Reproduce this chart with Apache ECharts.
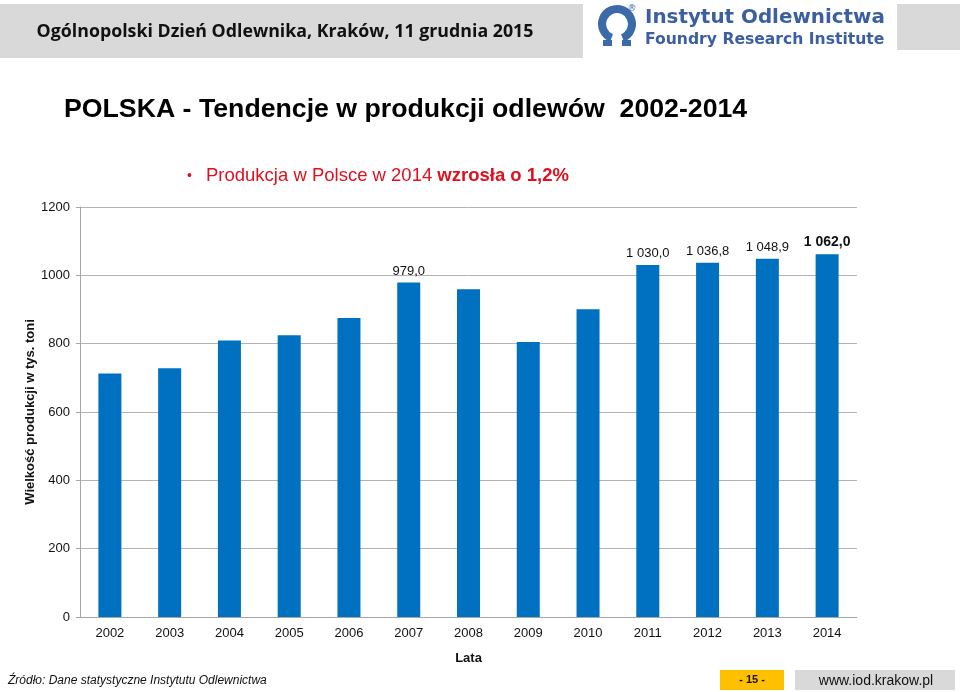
<!DOCTYPE html>
<html>
<head>
<meta charset="utf-8">
<script src="https://cdn.jsdelivr.net/npm/echarts@6/dist/echarts.min.js"></script>
<style>
html,body{margin:0;padding:0;background:#fff;}
#chart{width:960px;height:692px;}
</style>
</head>
<body>
<div id="chart"></div>
<script>
var years = ['2002','2003','2004','2005','2006','2007','2008','2009','2010','2011','2012','2013','2014'];
var production = [713, 728, 809, 825, 875, 979.0, 959, 805, 901, 1030.0, 1036.8, 1048.9, 1062.0];
var valueLabels = ['', '', '', '', '', '979,0', '', '', '', '1 030,0', '1 036,8', '1 048,9', '1 062,0'];
var boldLabel = [false,false,false,false,false,false,false,false,false,false,false,false,true];
var yTicks = [0, 200, 400, 600, 800, 1000, 1200];

var chart = echarts.init(document.getElementById('chart'), null, {renderer: 'canvas'});

var seriesData = production.map(function (v, i) {
  return {
    value: v,
    label: {
      show: valueLabels[i] !== '',
      formatter: valueLabels[i],
      fontWeight: boldLabel[i] ? 'bold' : 'normal',
      fontSize: boldLabel[i] ? 14 : 13
    }
  };
});

var option = {
  backgroundColor: '#ffffff',
  animation: false,
  textStyle: {fontFamily: 'Liberation Sans, Arial, sans-serif'},
  grid: {left: 80, right: 103, top: 207, bottom: 75, containLabel: false},
  xAxis: {
    type: 'category',
    data: years,
    name: 'Lata',
    nameLocation: 'middle',
    nameGap: 35,
    nameMoveOverlap: false,
    nameTextStyle: {fontWeight: 'bold', fontSize: 13, color: '#111', fontFamily: 'Liberation Sans, Arial, sans-serif'},
    axisLine: {show: true, lineStyle: {color: '#a6a6a6', width: 1}},
    axisTick: {show: false},
    axisLabel: {color: '#111', fontSize: 13, margin: 10, fontFamily: 'Liberation Sans, Arial, sans-serif'}
  },
  yAxis: {
    type: 'value',
    min: yTicks[0],
    max: yTicks[yTicks.length - 1],
    interval: 200,
    name: 'Wielkość produkcji w tys. toni',
    nameLocation: 'middle',
    nameGap: 43,
    nameMoveOverlap: false,
    nameRotate: 90,
    nameTextStyle: {fontWeight: 'bold', fontSize: 13, color: '#111', fontFamily: 'Liberation Sans, Arial, sans-serif'},
    axisLine: {show: true, lineStyle: {color: '#a6a6a6', width: 1}},
    axisTick: {show: true, length: 4, inside: false, lineStyle: {color: '#a6a6a6'}},
    axisLabel: {color: '#111', fontSize: 13, margin: 10, fontFamily: 'Liberation Sans, Arial, sans-serif',
      formatter: function (v) { return String(v); }},
    splitLine: {show: true, lineStyle: {color: '#b3b3b3', width: 1}}
  },
  series: [{
    type: 'bar',
    data: seriesData,
    barWidth: '38.5%',
    itemStyle: {color: '#0070c0'},
    label: {
      position: 'top',
      distance: 5,
      color: '#111',
      fontSize: 13,
      fontFamily: 'Liberation Sans, Arial, sans-serif'
    }
  }],
  graphic: [
    {type: 'rect', shape: {x: 0, y: 4, width: 583, height: 54}, style: {fill: '#d9d9d9'}, silent: true},
    {type: 'rect', shape: {x: 897, y: 4, width: 63, height: 46}, style: {fill: '#d9d9d9'}, silent: true},
    {type: 'text', x: 285, y: 32, style: {text: 'Ogólnopolski Dzień Odlewnika, Kraków, 11 grudnia 2015', font: 'bold 17.8px "Open Sans", sans-serif', fill: '#111', textAlign: 'center', textVerticalAlign: 'middle'}},
    // logo mark
    {type: 'arc', shape: {cx: 617, cy: 24, r: 15, startAngle: Math.PI * 0.62, endAngle: Math.PI * 2.38, clockwise: true}, style: {stroke: '#3a6aa8', lineWidth: 8, fill: null}},
    {type: 'rect', shape: {x: 603, y: 40, width: 9, height: 6}, style: {fill: '#3a6aa8'}},
    {type: 'rect', shape: {x: 622, y: 40, width: 9, height: 6}, style: {fill: '#3a6aa8'}},
    {type: 'text', x: 632, y: 9, style: {text: '®', font: '9px "DejaVu Sans", sans-serif', fill: '#3a6aa8', textAlign: 'center', textVerticalAlign: 'middle'}},
    {type: 'text', x: 645, y: 18, style: {text: 'Instytut Odlewnictwa', font: 'bold 19.9px "DejaVu Sans", sans-serif', fill: '#3b5fa0', textAlign: 'left', textVerticalAlign: 'middle'}},
    {type: 'text', x: 645, y: 40, style: {text: 'Foundry Research Institute', font: 'bold 15.6px "DejaVu Sans", sans-serif', fill: '#3b5fa0', textAlign: 'left', textVerticalAlign: 'middle'}},
    // titles
    {type: 'text', x: 64, y: 110, style: {text: 'POLSKA - Tendencje w produkcji odlewów  2002-2014', font: 'bold 26.7px "Liberation Sans", Arial, sans-serif', fill: '#000', textAlign: 'left', textVerticalAlign: 'middle'}},
    {type: 'text', x: 187, y: 176, style: {text: '•', font: '14px "Liberation Sans", Arial, sans-serif', fill: '#e0101e', textAlign: 'left', textVerticalAlign: 'middle'}},
    {type: 'text', x: 206, y: 176, style: {
      text: '{n|Produkcja w Polsce w 2014 }{b|wzrosła o 1,2%}',
      textVerticalAlign: 'middle', textAlign: 'left',
      rich: {
        n: {font: '18.5px "Liberation Sans", Arial, sans-serif', fill: '#e0101e'},
        b: {font: 'bold 18.5px "Liberation Sans", Arial, sans-serif', fill: '#e0101e'}
      }
    }},
    // footer
    {type: 'text', x: 8, y: 681, style: {text: 'Źródło: Dane statystyczne Instytutu Odlewnictwa', font: 'italic 12px "Liberation Sans", Arial, sans-serif', fill: '#111', textAlign: 'left', textVerticalAlign: 'middle'}},
    {type: 'rect', shape: {x: 720, y: 670, width: 64, height: 20}, style: {fill: '#ffc000'}},
    {type: 'text', x: 752, y: 680, style: {text: '- 15 -', font: 'bold 11px "Liberation Sans", Arial, sans-serif', fill: '#111', textAlign: 'center', textVerticalAlign: 'middle'}},
    {type: 'rect', shape: {x: 795, y: 670, width: 160, height: 20}, style: {fill: '#d9d9d9'}},
    {type: 'text', x: 876, y: 681, style: {text: 'www.iod.krakow.pl', font: '14px "Liberation Sans", Arial, sans-serif', fill: '#111', textAlign: 'center', textVerticalAlign: 'middle'}}
  ]
};
chart.setOption(option);
</script>
</body>
</html>
